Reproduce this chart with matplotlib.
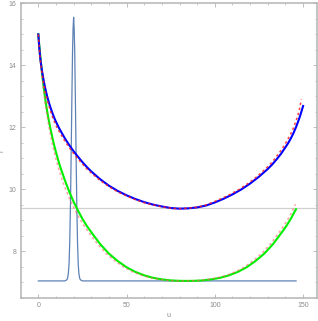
import numpy as np
import matplotlib
matplotlib.use('Agg')
import matplotlib.pyplot as plt

plt.rcParams['font.family'] = ['Liberation Sans', 'DejaVu Sans']

# --- data ---
u_blue = [0, 0.5, 1, 1.5, 2, 3, 4, 5, 6, 7, 8, 9, 10, 12, 15, 17.5, 20, 22.5, 25, 27.5,
          30, 35, 40, 45, 50, 55, 60, 65, 70, 75, 80, 85, 90, 95, 100, 105, 110, 115,
          120, 125, 130, 132.5, 135, 137.5, 140, 141.5, 143, 144.5, 146, 147, 148, 149,
          150]
r_blue = [15.0, 14.6, 14.28, 14.05, 13.85, 13.52, 13.24, 13.0, 12.8, 12.62, 12.46, 12.31,
          12.18, 11.95, 11.65, 11.43, 11.23, 11.05, 10.88, 10.72, 10.58, 10.33, 10.12,
          9.95, 9.81, 9.69, 9.59, 9.51, 9.45, 9.4, 9.38, 9.39, 9.42, 9.48, 9.58, 9.7,
          9.84, 10.0, 10.19, 10.41, 10.66, 10.805, 10.97, 11.15, 11.36, 11.49, 11.64,
          11.81, 12.01, 12.16, 12.32, 12.5, 12.69]

u_blue_fit = [0, 1, 2, 3, 4, 5, 6, 8, 10, 12, 15, 17.5, 20, 22.5, 25, 27.5, 30, 35, 40,
              45, 50, 55, 60, 65, 70, 75, 78.5, 84, 89, 94, 99, 104, 109, 114, 119, 124,
              129, 131.5, 134, 136.5, 139, 141, 143, 144.5, 146, 147, 148, 149]
r_blue_fit = [15.0, 14.23, 13.78, 13.44, 13.14, 12.9, 12.69, 12.34, 12.06, 11.85, 11.56,
              11.35, 11.16, 10.98, 10.82, 10.66, 10.53, 10.29, 10.09, 9.92, 9.79, 9.67,
              9.57, 9.5, 9.44, 9.395, 9.38, 9.39, 9.42, 9.48, 9.59, 9.71, 9.85, 10.01,
              10.2, 10.42, 10.68, 10.82, 10.99, 11.18, 11.39, 11.58, 11.79, 11.98, 12.21,
              12.38, 12.6, 12.9]

u_green = [0, 0.5, 1, 1.5, 2, 3, 4, 5, 6, 7, 8, 9, 10, 12, 15, 17.5, 20, 22.5, 25, 27.5,
           30, 35, 40, 45, 50, 55, 60, 65, 70, 75, 80, 84, 88, 93, 98, 103, 108, 113, 118,
           123, 128, 133, 138, 140.5, 143, 145.5, 146]
r_green = [15.0, 14.67, 14.37, 14.08, 13.8, 13.3, 12.88, 12.52, 12.2, 11.92, 11.66, 11.42,
           11.2, 10.8, 10.3, 9.93, 9.6, 9.315, 9.05, 8.82, 8.62, 8.24, 7.93, 7.69, 7.49,
           7.34, 7.23, 7.15, 7.1, 7.067, 7.053, 7.05, 7.053, 7.067, 7.1, 7.15, 7.23, 7.34,
           7.49, 7.69, 7.93, 8.24, 8.62, 8.82, 9.05, 9.315, 9.36]

u_green_fit = [0, 2, 4, 6, 8, 10, 12, 14, 16, 18.5, 21, 23.5, 26, 28.5, 33.5, 38.5, 43.5,
               48.5, 53.5, 58.5, 63.5, 68.5, 73.5, 78.5, 82.5, 86.5, 91.5, 96.5, 101.5,
               106.5, 111.5, 116.5, 121.5, 126.5, 131.5, 136.5, 139, 141.5, 144, 145.6]
r_green_fit = [15.0, 13.7, 12.73, 12.03, 11.45, 10.98, 10.58, 10.22, 9.93, 9.6, 9.315, 9.05,
               8.82, 8.62, 8.24, 7.93, 7.69, 7.49, 7.34, 7.23, 7.15, 7.1, 7.067, 7.053,
               7.05, 7.053, 7.067, 7.1, 7.15, 7.23, 7.34, 7.49, 7.69, 7.93, 8.24, 8.62,
               8.82, 9.05, 9.315, 9.52]

u_peak = [0, 15, 16.0, 16.5, 17.0, 17.4, 17.8, 18.2, 18.6, 19.0, 19.4, 19.7, 20.0,
          20.3, 20.6, 21.0, 21.4, 21.8, 22.2, 22.6, 23.0, 23.5, 24.0, 25, 146]
r_peak = [7.05, 7.05, 7.08, 7.12, 7.28, 7.6, 8.3, 9.5, 11.1, 12.9, 14.5, 15.2, 15.55,
          15.2, 14.5, 12.9, 11.1, 9.5, 8.3, 7.6, 7.28, 7.12, 7.08, 7.05, 7.05]

r_level = 9.39

xticks = [0, 50, 100, 150]
yticks = [8, 10, 12, 14, 16]

frame_col = '#b4b4b4'
text_col = '#8c8c8c'

fig = plt.figure(figsize=(3.18, 3.21), dpi=100)
ax = fig.add_axes([0.065, 0.0717, 0.932, 0.918])

ax.axhline(r_level, color='#d0d0d0', lw=0.9, zorder=1)
ax.plot(u_peak, r_peak, color='#5e81b5', lw=0.9, zorder=2)
ax.plot(u_green, r_green, color='#00ee00', lw=1.5, zorder=3,
        solid_joinstyle='round')
ax.plot(u_green_fit, r_green_fit, color='#ff6060', lw=1.1, alpha=0.6,
        ls=(0, (1.6, 1.8)), zorder=4)
ax.plot(u_blue, r_blue, color='#0000ff', lw=1.5, zorder=5,
        solid_joinstyle='round')
ax.plot(u_blue_fit, r_blue_fit, color='#ff2020', lw=1.1, alpha=0.85,
        ls=(0, (1.6, 1.8)), zorder=6)

ax.set_xlim(-8, 157.9)
ax.set_ylim(6.62, 16.0)
ax.set_xticks(xticks)
ax.set_yticks(yticks)
ax.set_xticks(np.arange(-10, 160, 10), minor=True)
ax.set_yticks(np.arange(6.5, 16.01, 0.5), minor=True)

for s in ax.spines.values():
    s.set_color(frame_col)
    s.set_linewidth(1.1)
ax.tick_params(which='both', direction='in', top=True, right=True,
               color=frame_col, labelcolor=text_col, labelsize=5, pad=3)
ax.tick_params(which='major', length=3, width=0.6)
ax.tick_params(which='minor', length=1.6, width=0.5)

ax.set_xlabel('u', color=text_col, fontsize=5, labelpad=2)
ax.set_ylabel('r', color=text_col, fontsize=5, labelpad=2)

fig.savefig('out.png', dpi=100)
